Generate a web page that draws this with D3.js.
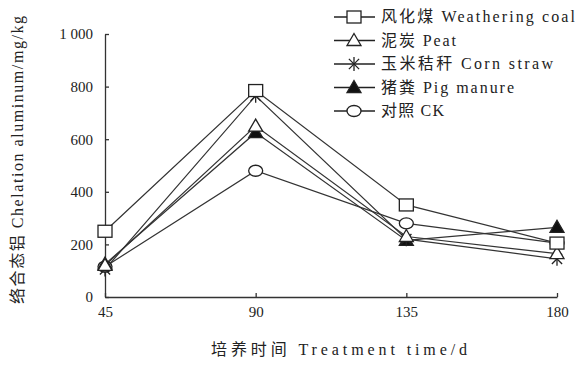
<!DOCTYPE html>
<html>
<head>
<meta charset="utf-8">
<script src="https://cdn.jsdelivr.net/npm/d3@7"></script>
<style>
  body { margin: 0; background: #fff; }
  text { font-family: "Liberation Serif", "Noto Sans CJK SC", serif; fill: #222; }
</style>
</head>
<body>
<svg width="586" height="371"></svg>
<script>
// data
var days = [45, 90, 135, 180];
var yTicks = [0, 200, 400, 600, 800, 1000];
var seriesNames = ["风化煤 Weathering coal", "泥炭 Peat", "玉米秸秆 Corn straw", "猪粪 Pig manure", "对照 CK"];
var symbols = ["square", "triangle", "star", "triangleFill", "circle"];
var weatheringCoal = [250, 785, 350, 205];
var peat = [120, 650, 230, 165];
var cornStraw = [105, 765, 220, 145];
var pigManure = [125, 625, 215, 265];
var ck = [115, 480, 280, 205];
var allValues = [weatheringCoal, peat, cornStraw, pigManure, ck];
var legendWidths = [194, 75, 172, 133, 63]; // text widths in the original

var svg = d3.select("svg");
var x = d3.scaleLinear().domain([45, 180]).range([105, 557]);
var y = d3.scaleLinear().domain([0, 1000]).range([297, 34]);

// axes (ticks pointing inward)
var gx = svg.append("g").attr("transform", "translate(0," + y(0) + ")")
  .call(d3.axisBottom(x).tickValues(days).tickSizeInner(-4).tickSizeOuter(0).tickPadding(6));
var gy = svg.append("g").attr("transform", "translate(" + x(45) + ",0)")
  .call(d3.axisLeft(y).tickValues(yTicks).tickSizeInner(-4).tickSizeOuter(0).tickPadding(12)
    .tickFormat(function(d){ return d === 1000 ? "1 000" : d; }));
svg.selectAll(".domain, .tick line").attr("stroke", "#333").attr("stroke-width", 1.3);
svg.selectAll(".tick text").style("font-size", "15px").attr("fill", "#333")
  .style("font-family", "Liberation Serif");
gx.selectAll(".tick text").attr("dy", "0.9em");

// axis titles
svg.append("text").attr("x", 339).attr("y", 355).attr("text-anchor", "middle")
  .attr("textLength", 256).attr("lengthAdjust", "spacing")
  .style("font-size", "16px").text("培养时间 Treatment time/d");
svg.append("text").attr("transform", "translate(23,160) rotate(-90)").attr("text-anchor", "middle")
  .attr("textLength", 288).attr("lengthAdjust", "spacing")
  .style("font-size", "16px").text("络合态铝 Chelation aluminum/mg/kg");

function drawMarker(g, type, cx, cy) {
  if (type === "square") {
    g.append("rect").attr("x", cx - 7).attr("y", cy - 6).attr("width", 14).attr("height", 12)
      .attr("fill", "#fff").attr("stroke", "#222").attr("stroke-width", 1.3);
  } else if (type === "triangle" || type === "triangleFill") {
    g.append("path").attr("d", "M" + cx + "," + (cy - 7) + "L" + (cx + 7) + "," + (cy + 5) + "L" + (cx - 7) + "," + (cy + 5) + "Z")
      .attr("fill", type === "triangle" ? "#fff" : "#111").attr("stroke", "#222").attr("stroke-width", 1.3);
  } else if (type === "star") {
    g.append("path").attr("d", d3.symbol().type(d3.symbolTimes).size(70)())
      .attr("transform", "translate(" + cx + "," + cy + ")").attr("stroke", "#222").attr("stroke-width", 1.3).attr("fill", "none");
    g.append("line").attr("x1", cx).attr("x2", cx).attr("y1", cy - 7).attr("y2", cy + 7)
      .attr("stroke", "#222").attr("stroke-width", 1.3);
  } else {
    g.append("ellipse").attr("cx", cx).attr("cy", cy).attr("rx", 7).attr("ry", 5.5)
      .attr("fill", "#fff").attr("stroke", "#222").attr("stroke-width", 1.3);
  }
}

var line = d3.line().x(function(d, i){ return x(days[i]); }).y(function(d){ return y(d); });

// lines first, markers on top (draw in reverse so weathering coal sits on top)
allValues.forEach(function(vals) {
  svg.append("path").datum(vals).attr("d", line).attr("fill", "none")
    .attr("stroke", "#333").attr("stroke-width", 1.2);
});
for (var s = allValues.length - 1; s >= 0; s--) {
  var g = svg.append("g");
  allValues[s].forEach(function(v, i) { drawMarker(g, symbols[s], x(days[i]), y(v)); });
}

// legend
var legend = svg.append("g");
seriesNames.forEach(function(name, i) {
  var ly = 17 + i * 23.5;
  legend.append("line").attr("x1", 334).attr("x2", 375).attr("y1", ly).attr("y2", ly)
    .attr("stroke", "#222").attr("stroke-width", 1.3);
  drawMarker(legend, symbols[i], 354, ly);
  legend.append("text").attr("x", 381).attr("y", ly + 5).style("font-size", "16px")
    .attr("textLength", legendWidths[i]).attr("lengthAdjust", "spacing").text(name);
});
</script>
</body>
</html>
